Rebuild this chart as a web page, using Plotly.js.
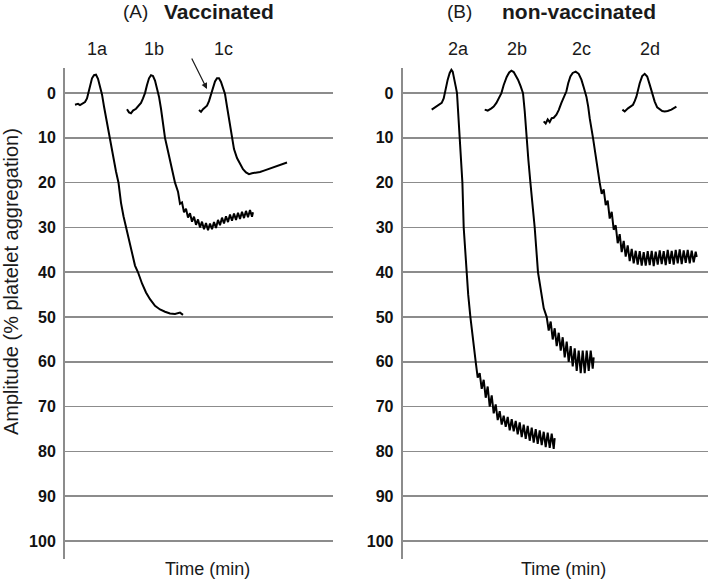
<!DOCTYPE html>
<html>
<head>
<meta charset="utf-8">
<script src="https://cdn.plot.ly/plotly-3.0.1.min.js"></script>
<style>html,body{margin:0;padding:0;background:#fff;}#chart{width:709px;height:579px;}</style>
</head>
<body>
<div id="chart"></div>
<script>
// ---- Data (time in arbitrary units, amplitude in % platelet aggregation) ----
var yTicks = [0, 10, 20, 30, 40, 50, 60, 70, 80, 90, 100];
var curveLabelsA = ["1a", "1b", "1c"];
var curveLabelsB = ["2a", "2b", "2c", "2d"];

// Panel A: vaccinated
var t1a = [10,13,15,18,20,22,23.5,25,27,29,31,33,35,37,39,41,43,45,48,51,53.5,56,58.5,61,64,67,70,73,77,81,85,90,95,100,105,110,115,118];
var y1a = [2.6,2.4,2.7,2.3,2.0,1.2,0,-1.8,-3.3,-4.0,-4.1,-3.2,-1.5,0.3,3,5.5,8,10,13.5,17.5,20,24.5,27.5,30,33,35.5,38.5,40,42.5,44.5,46,47.5,48.3,48.8,49.2,49.3,49.0,49.5];

var t1b = [62,64,66,68,71,74,76,78,80,82,84,86,88,90,92,94,96,98,100,103,106,110,113,115,117,119,121,123,125,127,129,131,133,135,137,139,141,143,145,147,149,151,153,155,157,159,161,163,165,167,169,171,173,175,177,179,181,183,185,187,188];
var y1b = [3.6,4.3,4.5,3.9,3.5,2.8,2.2,1.2,0,-1.8,-3.3,-4.0,-3.8,-2.8,-1.2,0.8,3.5,6.5,10,13,16,20,22.0,24.7,24.4,26.6,25.8,27.8,26.8,28.7,27.6,29.4,28.2,30.0,28.7,30.4,29.0,30.6,29.1,30.4,28.8,30.1,28.3,29.5,27.8,29.1,27.5,28.8,27.1,28.5,26.9,28.3,26.7,28.1,26.5,27.9,26.3,27.7,26.1,27.6,26.6];

var t1c = [134,136,138,140,142,144,146,148,150,152,154,156,158,160,162,164,166.5,169,172,175,178,181,184,187,191,195,199,203,207,211,215,219,222];
var y1c = [3.8,4.2,3.6,3.2,2.8,1.8,0.5,-1.2,-2.6,-3.3,-3.3,-2.5,-1.0,0.2,3,6,9.5,12.5,14.5,15.8,17.0,17.7,18.1,17.9,17.8,17.6,17.3,17.0,16.6,16.3,16.0,15.7,15.5];

// Panel B: non-vaccinated
var t2a = [29,31,34,37,39,41,42,43.5,45,47,48.7,50,52,53,54.3,55.5,57,58.5,59.7,61,62.5,63.7,65.5,67.7,70,73,75,77,79,81,83,85,87,89,91,93,95,97,99,101,103,105,107,109,111,113,115,117,119,121,123,125,127,129,131,133,135,137,139,141,143,145,147,149,151,152];
var y2a = [3.7,3.4,3.0,2.6,2.2,1.2,0,-1.5,-3,-4.5,-5.2,-4.8,-3,-1.5,0,4,10,15,20,30,35,40,45,50,55,60,63.5,62.5,66,64,68,65.5,70,67.5,71.5,69.5,73,71,74,72,74.5,72.3,75.3,72.8,75.5,73.2,76.2,73.5,76.8,74,77.2,74.3,77.6,74.7,78,75,78.3,75.3,78.6,75.6,79,75.8,79.2,76,79.4,77];

var t2b = [82,85,88.7,91,93.7,96,98.7,101,104,106.5,108.7,111,113,115.3,118,120.3,122,123.7,125.7,127.7,130,132,135.3,138.7,141,144,146,148,150,152,154,156,158,160,162,164,166,168,170,172,174,176,178,180,182,184,186,188,190,191];
var y2b = [3.7,3.9,3.4,3.0,2.2,1.2,0,-1.8,-3.6,-4.6,-5.0,-4.7,-4.0,-3,-1.5,0,4,10,15,20,25,30,40,45,48,50,53,51,55,52.5,56.5,53.5,57.5,54.5,59,55.5,60,56.5,61,57,62,57.5,62.5,57.5,62.5,57.5,62,57.5,61.5,59];

var t2c = [141,143,145,147,149,151,153.7,156,158.7,161,163.7,165.5,167.7,170,173,176,178.7,181,183.7,185.5,187,190.3,194.3,197,199,201,203,205,207,209,211,213,215,217,219,221,223,225,227,229,231,233,235,237,239,241,243,245,247,249,251,253,255,257,259,261,263,265,267,269,271,273,275,277,279,281,283,285,287,289,291,293,294];
var y2c = [6.3,6.8,5.9,6.5,5.6,5.5,4.8,3.8,2.2,0.8,-0.4,-2.2,-3.7,-4.5,-4.8,-4.3,-3,-1.3,0.8,3,5.6,10,16.7,20,22.5,21.5,25,24,28,26.5,30.5,29.5,33.5,31.5,35.5,33,36.5,34,37.5,34.8,38,35.2,38.3,35.3,38.5,35.5,38.5,35.3,38.4,35.2,38.6,35.4,38.3,35.1,38.2,35.3,38.4,35.0,38.1,35.2,38.3,35.0,38.0,34.9,38.2,35.1,37.9,35.0,38.0,35.2,37.8,35.4,36.6];

var t2d = [219.7,222,225.3,228,230.3,232,233.7,237,239.5,242,244.5,247,249.5,252,254.5,257,259.5,262,265,268.7,271,273.7];
var y2d = [3.7,4.1,3.4,3.0,2.6,1.8,0.8,-2.2,-3.8,-4.3,-3.7,-1.9,0,1.9,3.2,3.7,4.0,4.1,4.0,3.7,3.4,3.0];

// ---- Build traces ----
var lineStyle = {color: '#000', width: 2};
function tr(t, y, xa, ya, name) {
  return {x: t, y: y, type: 'scatter', mode: 'lines', line: lineStyle, xaxis: xa, yaxis: ya, name: name, showlegend: false, hoverinfo: 'skip'};
}
var data = [
  tr(t1a, y1a, 'x', 'y', curveLabelsA[0]),
  tr(t1b, y1b, 'x', 'y', curveLabelsA[1]),
  tr(t1c, y1c, 'x', 'y', curveLabelsA[2]),
  tr(t2a, y2a, 'x2', 'y2', curveLabelsB[0]),
  tr(t2b, y2b, 'x2', 'y2', curveLabelsB[1]),
  tr(t2c, y2c, 'x2', 'y2', curveLabelsB[2]),
  tr(t2d, y2d, 'x2', 'y2', curveLabelsB[3])
];

var W = 709, H = 579;
function px(x) { return x / W; }
function py(y) { return 1 - y / H; }

var FONT = 'Liberation Sans, Arial, Helvetica, sans-serif';
var yAxisCommon = {
  range: [104.0, -5.6],
  tickvals: yTicks,
  ticktext: yTicks.map(function (v) { return '<b>' + v + '</b>'; }),
  ticks: '',
  showline: true, linecolor: '#8c8c8c', linewidth: 2,
  showgrid: true, gridcolor: '#8c8c8c', gridwidth: 1.6,
  zeroline: false,
  tickfont: {family: FONT, size: 16, color: '#111', weight: 700},
  ticklabelstandoff: 4,
  fixedrange: true
};
var xAxisCommon = {showgrid: false, zeroline: false, showline: false, showticklabels: false, ticks: '', fixedrange: true};

var ann = [];
function txt(s, x, y, size, bold, extra) {
  var a = {text: s, xref: 'paper', yref: 'paper', x: px(x), y: py(y), xanchor: 'center', yanchor: 'middle', showarrow: false,
    font: {family: FONT, size: size, color: '#1a1a1a', weight: bold ? 700 : 400}};
  if (extra) for (var k in extra) a[k] = extra[k];
  ann.push(a);
}
txt('(A)', 135, 12, 19, false);
txt('<b>Vaccinated</b>', 219, 12, 21, true);
txt('(B)', 459, 12, 19, false);
txt('<b>non-vaccinated</b>', 579, 12, 21, true);
var labAx = [97, 154, 223];
var labBx = [458, 517, 581, 650];
curveLabelsA.forEach(function (l, i) { txt(l, labAx[i], 49, 18, false); });
curveLabelsB.forEach(function (l, i) { txt(l, labBx[i], 49, 18, false); });
txt('Time (min)', 207, 569, 18, false);
txt('Time (min)', 563, 569, 18, false);
txt('Amplitude (% platelet aggregation)', 11, 282, 20, false, {textangle: -90});
ann.push({xref: 'x', yref: 'y', x: 142, y: -0.9, ax: -16, ay: -32, text: '', showarrow: true,
  arrowhead: 2, arrowsize: 1, arrowwidth: 1.2, arrowcolor: '#1a1a1a'});

var layout = {
  width: W, height: H,
  margin: {l: 0, r: 0, t: 0, b: 0},
  paper_bgcolor: '#fff', plot_bgcolor: '#fff',
  showlegend: false,
  hovermode: false,
  xaxis: Object.assign({domain: [65 / W, 333 / W], range: [0, 268]}, xAxisCommon),
  xaxis2: Object.assign({domain: [402.7 / W, 708 / W], range: [0, 305.3]}, xAxisCommon),
  yaxis: Object.assign({domain: [py(559), py(68)], anchor: 'x'}, yAxisCommon),
  yaxis2: Object.assign({domain: [py(559), py(68)], anchor: 'x2'}, yAxisCommon),
  annotations: ann
};

Plotly.newPlot('chart', data, layout, {staticPlot: true, displayModeBar: false});
</script>
</body>
</html>
